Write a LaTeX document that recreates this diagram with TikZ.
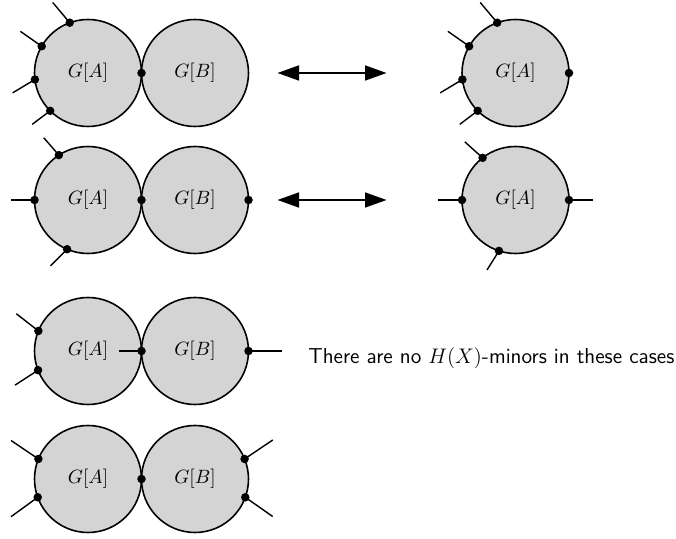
\documentclass[tikz,border=0pt]{standalone}
\usetikzlibrary{positioning,arrows.meta}

\tikzset{
	blob/.style={circle, draw, line width=0.9pt, fill=black!17, minimum size=2.14cm, inner sep=0pt, outer sep=0pt, font=\fontsize{11}{13}\selectfont},
	pend/.style={line width=0.8pt},
	biarrow/.style={line width=0.9pt, {Triangle[length=4.3mm,width=3mm]}-{Triangle[length=4.3mm,width=3mm]}}
}

\begin{document}
\begin{tikzpicture}
	\def\dotr{0.085}
	\useasboundingbox (0,0) rectangle (13.52,-10.78);

	% first row
	\node[blob] (a1) at (1.76,-1.46) {$G[A]$};
	\node[blob, right=0pt of a1] (b1) {$G[B]$};
	\node[blob] (r1) at (10.31,-1.46) {$G[A]$};
	\foreach \n in {a1,r1}{
		\foreach \a/\d/\l in {110/130/0.53, 150/145/0.52, 187/211/0.52, 225/217/0.45}
			\draw[pend] (\n.\a) -- ++(\d:\l);
		\foreach \a in {110,150,187,225,0}
			\fill (\n.\a) circle (\dotr);
	}
	\draw[biarrow] ([xshift=5.8mm]b1.east) -- ([xshift=-15.1mm]r1.west);

	% second row
	\node[blob] (a2) at (1.76,-4.0) {$G[A]$};
	\node[blob, right=0pt of a2] (b2) {$G[B]$};
	\node[blob] (r2) at (10.31,-4.0) {$G[A]$};
	\foreach \a/\d/\l in {123/131/0.46, 180/180/0.46, 247/225/0.47}
		\draw[pend] (a2.\a) -- ++(\d:\l);
	\foreach \a/\d/\l in {128/138/0.48, 180/180/0.48, 252/238/0.45, 0/0/0.47}
		\draw[pend] (r2.\a) -- ++(\d:\l);
	\foreach \p in {a2.123, a2.180, a2.247, a2.0, b2.0, r2.128, r2.180, r2.252, r2.0}
		\fill (\p) circle (\dotr);
	\draw[biarrow] ([xshift=5.8mm]b2.east) -- ([xshift=-15.1mm]r2.west);

	% no minors
	\node[blob] (a3) at (1.76,-7.02) {$G[A]$};
	\node[blob, right=0pt of a3] (b3) {$G[B]$};
	\foreach \p/\d/\l in {a3.158/142/0.56, a3.201/213/0.55, a3.0/180/0.45, b3.0/0/0.67}
		\draw[pend] (\p) -- ++(\d:\l);
	\foreach \p in {a3.158, a3.201, a3.0, b3.0}
		\fill (\p) circle (\dotr);

	\node[blob] (a4) at (1.76,-9.58) {$G[A]$};
	\node[blob, right=0pt of a4] (b4) {$G[B]$};
	\foreach \p/\d/\l in {a4.158/146/0.66, a4.200/216/0.66, b4.22/34/0.68, b4.-20/-35/0.67}
		\draw[pend] (\p) -- ++(\d:\l);
	\foreach \p in {a4.158, a4.200, a4.0, b4.22, b4.-20}
		\fill (\p) circle (\dotr);

	\node[anchor=west, inner sep=0pt, font=\fontsize{12.3}{15}\selectfont\sffamily] (note) at (6.16,-7.16) {There are no $H(X)$-minors in these cases};
\end{tikzpicture}
\end{document}
